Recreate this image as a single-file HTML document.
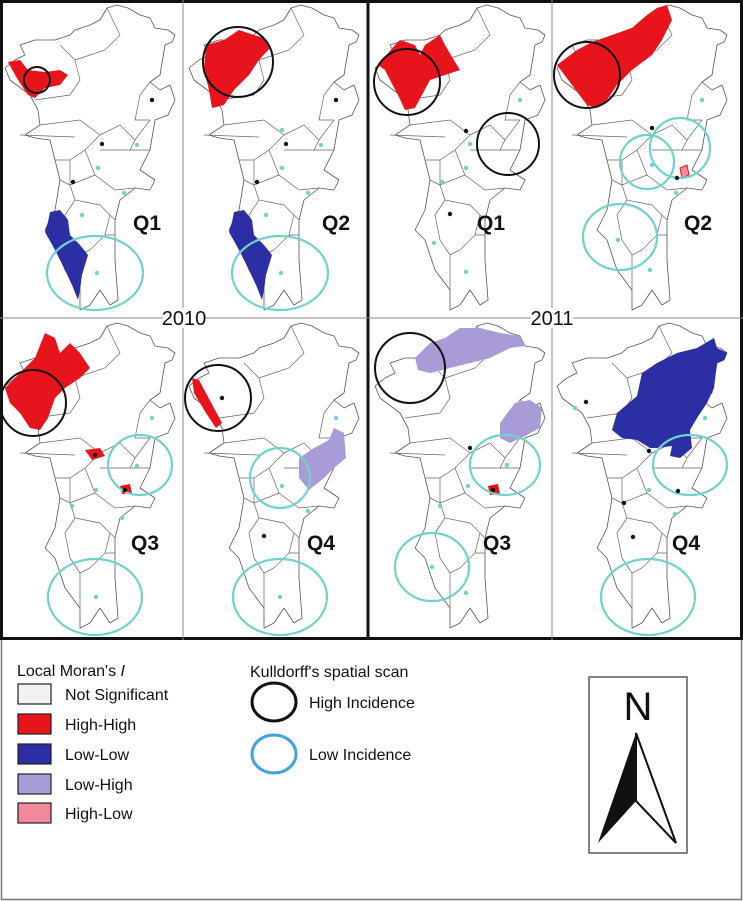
<!DOCTYPE html>
<html><head><meta charset="utf-8">
<style>
html,body{margin:0;padding:0;background:#fff;}
svg{display:block;font-family:"Liberation Sans",sans-serif;}
.ol{fill:#fff;stroke:#555;stroke-width:0.8;stroke-linejoin:round;}
.in{fill:none;stroke:#666;stroke-width:0.7;}
.hc{fill:none;stroke:#111;stroke-width:2;}
.lc{fill:none;stroke:#6fd3cc;stroke-width:2.2;}
.q{font-size:21px;font-weight:bold;fill:#111;}
.leg{font-size:16px;fill:#111;}
</style></head>
<body>
<svg width="743" height="901" viewBox="0 0 743 901">
<defs>
<g id="mapbase">
<path class="ol" d="M107,8 L117,5 L128,8 L140,15 L150,18 L155,28 L168,30 L175,35 L172,42 L165,45 L160,75 L150,82 L160,90 L170,85 L175,100 L168,115 L155,120 L150,150 L140,170 L155,180 L150,190 L135,188 L120,200 L115,220 L115,260 L118,300 L110,305 L100,290 L90,305 L80,310 L80,290 L65,270 L55,240 L45,230 L55,210 L60,180 L55,160 L50,140 L35,138 L25,135 L40,125 L38,110 L30,95 L10,80 L5,68 L15,60 L25,55 L20,45 L35,40 L55,40 L70,35 L75,30 L90,25 L100,20 Z"/>
<path class="in" d="M35,100 L70,95 L80,80 L75,60 L60,45 M75,60 L105,50 L120,35 L107,8 M40,125 L80,120 L100,135 L85,150 L70,160 L55,160 M100,135 L120,125 L135,140 L130,150 L100,150 M135,140 L150,120 M130,150 L150,150 M85,150 L95,175 L115,190 L135,188 M70,160 L70,185 L95,175 M60,180 L70,185 L75,200 L100,205 L110,215 L115,220 M75,200 L65,215 L70,240 L80,255 L90,250 L105,235 L110,215 M80,255 L80,290 M105,235 L115,235 M150,82 L140,95 L135,120 L150,120 M20,135 L75,137"/>
</g>
</defs>

<!-- frames -->
<rect x="1.5" y="1.5" width="740" height="898" fill="none" stroke="#777" stroke-width="1.5"/>
<rect x="1.5" y="1.5" width="740" height="637" fill="none" stroke="#111" stroke-width="3"/>
<line x1="368" y1="0" x2="368" y2="640" stroke="#111" stroke-width="3"/>
<line x1="183" y1="0" x2="183" y2="640" stroke="#888" stroke-width="1"/>
<line x1="552" y1="0" x2="552" y2="640" stroke="#888" stroke-width="1"/>
<line x1="0" y1="318" x2="743" y2="318" stroke="#888" stroke-width="1"/>

<!-- P1 2010 Q1 -->
<g transform="translate(0,0)">
<use href="#mapbase"/>
<path fill="#e8141c" d="M8,62 L20,60 L28,70 L45,72 L60,70 L68,75 L60,85 L45,88 L35,98 L28,95 L18,80 Z"/>
<circle class="hc" cx="37" cy="80" r="13"/>
<path fill="#2c2fa3" d="M50,212 L60,210 L68,220 L70,235 L80,245 L88,255 L85,265 L82,275 L80,290 L78,300 L72,285 L65,270 L55,250 L45,232 L48,222 Z"/>
<ellipse class="lc" cx="95" cy="273" rx="48" ry="37"/>
<g fill="#111"><circle cx="152" cy="100" r="2.2"/><circle cx="102" cy="144" r="2.2"/><circle cx="73" cy="182" r="2.2"/></g>
<g fill="#6fd3cc"><circle cx="137" cy="145" r="2.2"/><circle cx="98" cy="168" r="2.2"/><circle cx="124" cy="193" r="2.2"/><circle cx="82" cy="215" r="2.2"/><circle cx="97" cy="273" r="2.2"/></g>
<text class="q" x="133" y="230">Q1</text>
</g>

<!-- P2 2010 Q2 -->
<g transform="translate(184,0)">
<use href="#mapbase"/>
<path fill="#e8141c" d="M22,45 L40,40 L55,30 L70,35 L80,38 L86,48 L75,60 L65,75 L50,90 L40,105 L28,108 L25,90 L20,70 Z"/>
<circle class="hc" cx="54" cy="62" r="35"/>
<path fill="#2c2fa3" d="M50,212 L60,210 L68,220 L70,235 L80,245 L88,255 L85,265 L82,275 L80,290 L78,300 L72,285 L65,270 L55,250 L45,232 L48,222 Z"/>
<ellipse class="lc" cx="96" cy="273" rx="48" ry="37"/>
<g fill="#111"><circle cx="152" cy="100" r="2.2"/><circle cx="102" cy="144" r="2.2"/><circle cx="73" cy="182" r="2.2"/></g>
<g fill="#6fd3cc"><circle cx="137" cy="145" r="2.2"/><circle cx="98" cy="130" r="2.2"/><circle cx="98" cy="168" r="2.2"/><circle cx="124" cy="193" r="2.2"/><circle cx="82" cy="215" r="2.2"/><circle cx="97" cy="273" r="2.2"/></g>
<text class="q" x="138" y="230">Q2</text>
</g>

<!-- P3 2011 Q1 -->
<g transform="translate(370,0)">
<use href="#mapbase"/>
<path fill="#e8141c" d="M8,65 L25,45 L30,40 L45,45 L50,55 L55,45 L70,35 L75,45 L85,62 L90,70 L75,75 L60,80 L52,95 L45,108 L35,110 L28,95 L20,80 L15,70 Z"/>
<circle class="hc" cx="37" cy="82" r="33"/>
<circle class="hc" cx="138" cy="144" r="31"/>
<g fill="#111"><circle cx="96" cy="131" r="2.2"/><circle cx="80" cy="214" r="2.2"/></g>
<g fill="#6fd3cc"><circle cx="150" cy="100" r="2.2"/><circle cx="100" cy="144" r="2.2"/><circle cx="96" cy="168" r="2.2"/><circle cx="72" cy="182" r="2.2"/><circle cx="64" cy="243" r="2.2"/><circle cx="96" cy="272" r="2.2"/></g>
<text class="q" x="107" y="230">Q1</text>
</g>

<!-- P4 2011 Q2 -->
<g transform="translate(552,0)">
<use href="#mapbase"/>
<path fill="#e8141c" d="M5,65 L25,50 L40,42 L60,35 L80,28 L95,15 L105,8 L115,5 L120,20 L110,40 L100,55 L80,70 L65,85 L55,100 L45,108 L35,105 L20,85 Z"/>
<path fill="#f08a9a" stroke="#e8141c" d="M128,168 L135,165 L137,175 L130,178 Z"/>
<circle class="hc" cx="35" cy="75" r="33"/>
<circle class="lc" cx="95" cy="162" r="27"/>
<circle class="lc" cx="128" cy="148" r="30"/>
<ellipse class="lc" cx="68" cy="237" rx="37" ry="33"/>
<g fill="#111"><circle cx="100" cy="128" r="2.2"/><circle cx="125" cy="178" r="2.2"/></g>
<g fill="#6fd3cc"><circle cx="150" cy="100" r="2.2"/><circle cx="100" cy="165" r="2.2"/><circle cx="124" cy="193" r="2.2"/><circle cx="66" cy="240" r="2.2"/><circle cx="98" cy="270" r="2.2"/></g>
<text class="q" x="132" y="230">Q2</text>
</g>

<!-- P5 2010 Q3 -->
<g transform="translate(0,318)">
<use href="#mapbase"/>
<path fill="#e8141c" d="M5,70 L20,55 L35,40 L45,15 L55,20 L60,35 L70,25 L80,35 L90,50 L80,60 L65,70 L55,80 L48,100 L40,112 L30,110 L20,95 L10,85 Z"/>
<path fill="#e8141c" d="M85,132 L100,130 L105,138 L92,142 Z"/>
<path fill="#e8141c" d="M120,168 L130,166 L132,175 L122,176 Z"/>
<circle class="hc" cx="33" cy="85" r="33"/>
<ellipse class="lc" cx="140" cy="147" rx="32" ry="30"/>
<ellipse class="lc" cx="95" cy="279" rx="47" ry="38"/>
<g fill="#111"><circle cx="95" cy="137" r="2.2"/><circle cx="125" cy="172" r="2.2"/></g>
<g fill="#6fd3cc"><circle cx="152" cy="100" r="2.2"/><circle cx="137" cy="148" r="2.2"/><circle cx="96" cy="172" r="2.2"/><circle cx="72" cy="188" r="2.2"/><circle cx="122" cy="200" r="2.2"/><circle cx="96" cy="279" r="2.2"/></g>
<text class="q" x="131" y="232">Q3</text>
</g>

<!-- P6 2010 Q4 -->
<g transform="translate(184,318)">
<use href="#mapbase"/>
<path fill="#e8141c" d="M8,60 L15,62 L30,90 L38,105 L32,110 L22,95 L10,75 Z"/>
<path fill="#a99bd8" d="M115,140 L130,130 L145,122 L150,110 L160,115 L162,140 L150,150 L140,160 L125,172 L115,160 Z"/>
<circle class="hc" cx="34" cy="80" r="33"/>
<circle class="lc" cx="96" cy="160" r="30"/>
<ellipse class="lc" cx="96" cy="279" rx="47" ry="38"/>
<g fill="#111"><circle cx="38" cy="80" r="2.2"/><circle cx="80" cy="218" r="2.2"/></g>
<g fill="#6fd3cc"><circle cx="152" cy="100" r="2.2"/><circle cx="98" cy="168" r="2.2"/><circle cx="124" cy="193" r="2.2"/><circle cx="96" cy="279" r="2.2"/></g>
<text class="q" x="123" y="232">Q4</text>
</g>

<!-- P7 2011 Q3 -->
<g transform="translate(370,318)">
<use href="#mapbase"/>
<path fill="#a99bd8" d="M45,40 L60,25 L75,20 L90,10 L110,10 L130,15 L150,18 L155,28 L140,30 L120,40 L100,45 L80,50 L60,55 L48,52 Z"/>
<path fill="#a99bd8" d="M130,105 L145,85 L160,82 L172,90 L170,110 L155,118 L140,125 L130,120 Z"/>
<path fill="#e8141c" d="M118,168 L128,166 L130,176 L120,177 Z"/>
<circle class="hc" cx="40" cy="50" r="35"/>
<ellipse class="lc" cx="135" cy="147" rx="35" ry="30"/>
<ellipse class="lc" cx="62" cy="249" rx="37" ry="34"/>
<g fill="#111"><circle cx="100" cy="130" r="2.2"/><circle cx="123" cy="172" r="2.2"/></g>
<g fill="#6fd3cc"><circle cx="137" cy="147" r="2.2"/><circle cx="98" cy="168" r="2.2"/><circle cx="70" cy="188" r="2.2"/><circle cx="62" cy="249" r="2.2"/><circle cx="96" cy="275" r="2.2"/></g>
<text class="q" x="113" y="232">Q3</text>
</g>

<!-- P8 2011 Q4 -->
<g transform="translate(552,318)">
<use href="#mapbase"/>
<path fill="#2c2fa3" d="M60,112 L65,95 L85,78 L90,55 L105,45 L125,35 L145,30 L162,20 L165,30 L175,35 L172,42 L165,45 L162,70 L155,85 L145,100 L138,112 L140,130 L128,140 L118,138 L120,128 L105,130 L98,130 L85,122 L70,120 Z"/>
<ellipse class="lc" cx="138" cy="147" rx="37" ry="30"/>
<ellipse class="lc" cx="96" cy="279" rx="47" ry="38"/>
<g fill="#111"><circle cx="34" cy="84" r="2.2"/><circle cx="97" cy="133" r="2.2"/><circle cx="126" cy="173" r="2.2"/><circle cx="72" cy="185" r="2.2"/><circle cx="81" cy="219" r="2.2"/></g>
<g fill="#6fd3cc"><circle cx="23" cy="90" r="2.2"/><circle cx="153" cy="100" r="2.2"/><circle cx="97" cy="172" r="2.2"/><circle cx="123" cy="196" r="2.2"/></g>
<text class="q" x="120" y="232">Q4</text>
</g>

<!-- year labels -->
<rect x="163" y="308" width="42" height="20" fill="#fff"/>
<text x="184" y="325" text-anchor="middle" font-size="20" fill="#111">2010</text>
<rect x="531" y="308" width="42" height="20" fill="#fff"/>
<text x="552" y="325" text-anchor="middle" font-size="20" fill="#111">2011</text>

<!-- legend -->
<g>
<text class="leg" x="17" y="676" font-size="17">Local Moran's <tspan font-style="italic">I</tspan></text>
<rect x="18" y="684" width="33" height="20" fill="#f2f2f2" stroke="#222" stroke-width="1.2"/>
<text class="leg" x="65" y="700">Not Significant</text>
<rect x="18" y="714" width="33" height="20" fill="#e8141c" stroke="#222" stroke-width="1.2"/>
<text class="leg" x="65" y="730">High-High</text>
<rect x="18" y="744" width="33" height="20" fill="#2c2fa3" stroke="#222" stroke-width="1.2"/>
<text class="leg" x="65" y="760">Low-Low</text>
<rect x="18" y="774" width="33" height="20" fill="#a99bd8" stroke="#222" stroke-width="1.2"/>
<text class="leg" x="65" y="790">Low-High</text>
<rect x="18" y="803" width="33" height="20" fill="#f08a9a" stroke="#222" stroke-width="1.2"/>
<text class="leg" x="65" y="819">High-Low</text>
</g>
<g>
<text class="leg" x="250" y="677" font-size="17">Kulldorff's spatial scan</text>
<ellipse cx="274" cy="702" rx="22" ry="19" fill="none" stroke="#111" stroke-width="3"/>
<text class="leg" x="309" y="708">High Incidence</text>
<ellipse cx="274" cy="754" rx="22" ry="19" fill="none" stroke="#3fa3dd" stroke-width="3"/>
<text class="leg" x="309" y="760">Low Incidence</text>
</g>
<g>
<rect x="589" y="677" width="98" height="176" fill="#fff" stroke="#333" stroke-width="1.2"/>
<text x="638" y="720" text-anchor="middle" font-size="40" fill="#111">N</text>
<path d="M636,733 L598,843 L636,801 Z" fill="#111"/>
<path d="M636,733 L676,843 L636,801 Z" fill="#fff" stroke="#111" stroke-width="2"/>
</g>
</svg>
</body></html>
